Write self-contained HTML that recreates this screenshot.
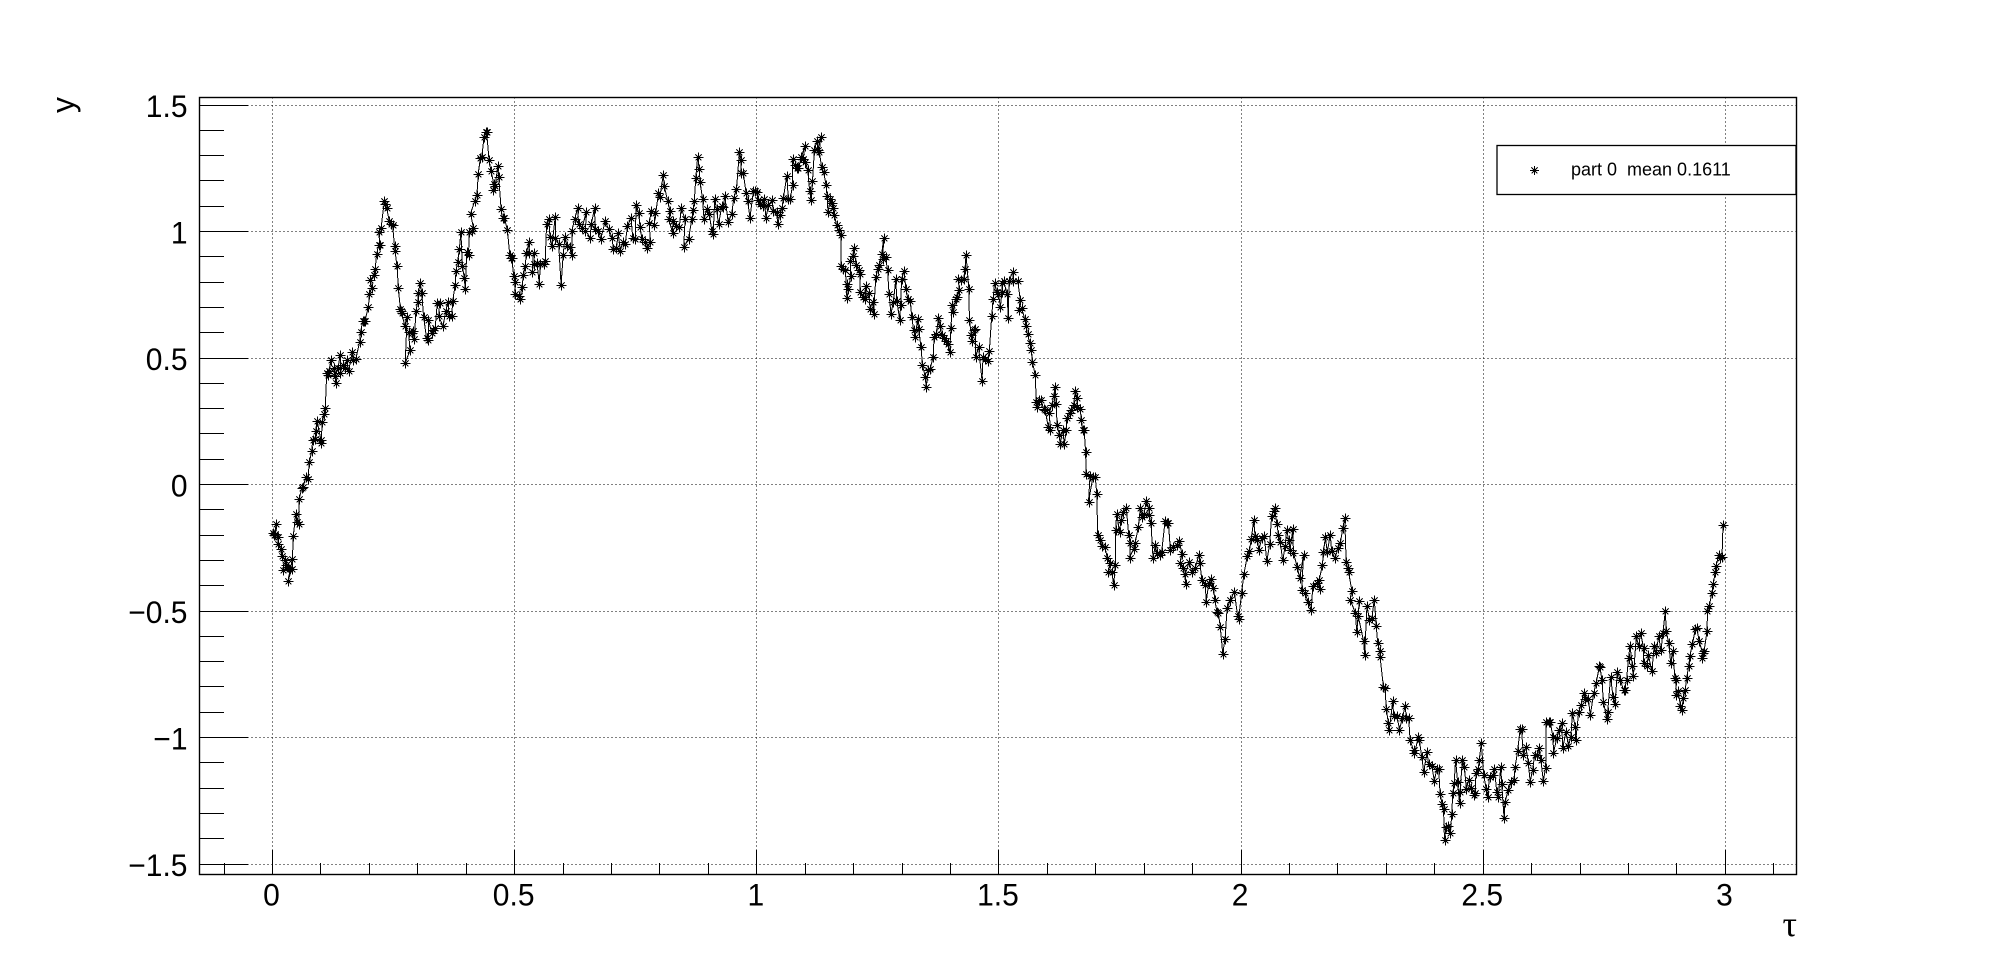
<!DOCTYPE html>
<html lang="en">
<head>
<meta charset="utf-8">
<title>Trajectory part 0</title>
<style>
html,body{margin:0;padding:0;background:#fff;}
svg{display:block;}
text{font-family:"Liberation Sans",sans-serif;fill:#000;}
</style>
</head>
<body>
<svg id="chart" xmlns="http://www.w3.org/2000/svg" width="1996" height="972" viewBox="0 0 1996 972">
  <rect x="0" y="0" width="1996" height="972" fill="#fff"/>
  <g id="grid"></g>
  <g id="series"></g>
  <g id="ticks"></g>
  <rect x="199.5" y="97.5" width="1597" height="777" fill="none" stroke="#000" stroke-width="1.4"/>
  <g id="labels"></g>
  <text transform="translate(74,97) rotate(-90)" text-anchor="end" font-size="32">y</text>
  <text x="1797" y="936" text-anchor="end" font-size="36" style="font-family:'Liberation Serif',serif">τ</text>
  <g>
    <rect x="1497" y="145.5" width="299" height="49" fill="#fff" stroke="#000" stroke-width="1.3"/>
    <path shape-rendering="crispEdges" d="M1530 170.5H1539M1534.5 166V175M1531.5 167.5L1537.5 173.5M1531.5 173.5L1537.5 167.5" stroke="#000" stroke-width="1" fill="none"/>
    <text x="1571" y="175.3" font-size="18" style="white-space:pre" xml:space="preserve">part 0  mean 0.1611</text>
  </g>
</svg>
<script>
const xTickValues = [0, 0.5, 1, 1.5, 2, 2.5, 3];
const xTickLabels = ["0", "0.5", "1", "1.5", "2", "2.5", "3"];
const yTickValues = [-1.5, -1, -0.5, 0, 0.5, 1, 1.5];
const yTickLabels = ["\u22121.5", "\u22121", "\u22120.5", "0", "0.5", "1", "1.5"];
const xMinorValues = [-0.1,0.1,0.2,0.3,0.4,0.6,0.7,0.8,0.9,1.1,1.2,1.3,1.4,1.6,1.7,1.8,1.9,2.1,2.2,2.3,2.4,2.6,2.7,2.8,2.9,3.1];
const yMinorValues = [-1.4,-1.3,-1.2,-1.1,-0.9,-0.8,-0.7,-0.6,-0.4,-0.3,-0.2,-0.1,0.1,0.2,0.3,0.4,0.6,0.7,0.8,0.9,1.1,1.2,1.3,1.4];

const taus = [
0,.003,.008,.006,.011,.012,.017,.019,.025,.021,
.028,.032,.034,.04,.032,.041,.043,.048,.05,.054,
.055,.061,.063,.069,.073,.076,.081,.083,.088,.089,
.092,.1,.1,.103,.107,.109,.112,.114,.121,.117,
.126,.131,.129,.135,.14,.14,.145,.15,.153,.157,
.165,.167,.172,.18,.182,.186,.189,.191,.198,.2,
.205,.202,.209,.212,.215,.219,.222,.219,.224,.231,
.233,.236,.241,.245,.248,.252,.253,.257,.26,.264,
.266,.267,.273,.278,.274,.284,.281,.289,.291,.293,
.296,.3,.301,.305,.308,.312,.318,.322,.322,.329,
.332,.336,.34,.345,.343,.352,.358,.362,.365,.37,
.372,.377,.379,.382,.386,.389,.392,.396,.398,.401,
.405,.406,.412,.415,.409,.418,.422,.425,.429,.432,
.437,.44,.442,.447,.451,.457,.456,.46,.465,.467,
.472,.475,.479,.485,.49,.493,
.494,.498,.501,.501,.508,.511,.515,.518,.522,.524,
.53,.529,.539,.536,.539,.546,.551,.553,.56,.563,
.566,.57,.573,.577,.584,.584,.591,.596,.6,.604,
.608,.615,.618,.618,.624,.63,.632,.639,.648,.646,
.656,.658,.665,.666,.673,.678,.687,.694,.701,.704,
.71,.714,.718,.724,.728,.733,.74,.744,.749,.751,
.756,.759,.763,.77,.773,.78,.778,.782,.79,.788,
.797,.8,.807,.809,.816,.821,.818,.826,.827,.833,
.84,.844,.852,.849,.859,.866,.868,.871,.874,.878,
.881,.883,.888,.891,.897,.902,.907,.91,.913,.917,
.921,.928,.931,.934,.941,.948,.953,.958,.964,.968,
.967,.972,.978,.981,.986,.993,.997,
1,1.002,1.007,1.012,1.015,1.019,1.024,1.031,1.034,1.041,
1.043,1.048,1.052,1.055,1.062,1.065,1.069,1.074,1.074,1.078,
1.083,1.086,1.092,1.099,1.096,1.1,1.105,1.109,1.112,1.115,
1.119,1.124,1.126,1.132,1.129,1.134,1.138,1.143,1.145,1.147,
1.152,1.155,1.158,1.16,1.165,1.169,1.174,1.174,1.178,1.183,
1.186,1.186,1.189,1.194,1.193,1.198,1.201,1.205,1.21,1.213,
1.213,1.22,1.226,1.224,1.231,1.234,1.239,1.241,1.246,1.25,
1.253,1.258,1.262,1.26,1.266,1.27,1.273,1.277,1.282,1.287,
1.289,1.295,1.297,1.299,1.304,1.308,1.312,1.317,1.32,1.324,
1.327,1.332,1.334,1.339,1.342,1.348,1.35,1.354,1.358,1.364,
1.366,1.371,1.375,1.379,1.382,1.387,1.39,1.394,1.398,1.401,
1.403,1.406,1.412,1.414,1.418,1.416,1.422,1.427,1.43,1.432,
1.438,1.439,1.443,1.445,1.449,1.451,1.452,1.458,1.465,1.467,
1.472,1.477,1.48,1.485,1.488,1.491,1.496,1.499,1.503,1.506,1.507,
1.51,1.517,1.519,1.521,1.528,1.53,1.539,1.544,1.541,1.547,1.553,1.556,1.559,1.564,1.567,1.569,
1.575,1.577,1.582,1.578,1.587,1.592,1.595,1.602,1.606,1.604,
1.609,1.613,1.616,1.618,1.62,1.625,1.626,1.632,1.635,1.639,
1.64,1.646,1.649,1.654,1.658,1.661,1.662,1.668,1.67,1.673,
1.676,1.679,1.68,1.688,1.685,1.694,1.699,1.702,1.704,1.709,
1.713,1.719,1.724,1.73,1.726,1.733,1.737,1.74,1.741,1.743,
1.749,1.752,1.757,1.763,1.768,1.771,1.77,1.778,1.781,1.788,
1.792,1.795,1.8,1.804,1.809,1.81,1.814,1.818,1.823,1.826,
1.832,1.836,1.843,1.847,1.85,1.854,1.86,1.867,1.872,1.878,
1.874,1.881,1.886,1.885,1.893,1.898,1.905,1.913,1.915,1.919,
1.926,1.928,1.933,1.938,1.943,1.946,1.95,1.953,1.957,1.962,
1.967,1.971,1.978,1.986,1.993,1.995,2.001,
2.006,2.013,2.017,2.021,2.026,2.029,2.033,2.037,2.043,2.048,
2.053,2.059,2.063,2.067,2.069,2.074,2.077,2.081,2.086,2.091,
2.094,2.098,2.101,2.107,2.108,2.116,2.121,2.129,2.125,2.132,
2.139,2.145,2.148,2.156,2.162,2.161,2.168,2.17,2.174,2.178,
2.184,2.187,2.194,2.2,2.205,2.21,2.214,2.217,2.22,2.222,
2.229,2.225,2.236,2.239,2.244,2.242,2.253,2.255,2.26,2.265,
2.27,2.275,2.279,2.282,2.286,2.287,2.294,2.297,2.3,2.304,
2.306,2.313,2.315,2.322,2.327,2.333,2.339,2.341,2.346,
2.349,2.356,2.358,2.366,2.368,2.373,2.377,2.384,2.387,2.394,
2.399,2.404,2.408,2.411,2.415,2.418,2.42,2.423,2.428,2.432,
2.435,2.437,2.44,2.443,2.447,2.451,2.452,2.457,2.461,2.465,
2.47,2.474,2.48,2.483,2.485,2.49,2.492,2.496,2.501,2.506,
2.509,2.513,2.52,2.523,2.528,2.531,2.536,2.538,2.543,2.545,
2.552,2.558,2.563,2.566,2.571,2.576,2.579,2.583,2.588,2.593,
2.597,2.602,2.606,2.611,2.616,2.619,2.624,2.629,2.63,2.635,
2.638,2.644,2.645,2.652,2.657,2.662,2.664,2.671,2.676,2.681,
2.684,2.69,2.691,2.697,2.702,2.707,2.71,2.717,2.721,2.728,
2.733,2.74,2.741,2.745,2.748,2.755,2.757,2.763,2.768,2.772,
2.777,2.783,2.79,
2.792,2.796,2.8,2.803,2.808,2.81,2.816,2.821,2.825,2.831,
2.831,2.838,2.841,2.848,2.853,2.857,2.862,2.867,2.871,2.876,
2.878,2.883,2.887,2.891,2.896,2.898,2.898,2.903,2.907,2.91,
2.913,2.917,2.92,2.924,2.927,2.932,2.938,2.941,2.946,2.953,
2.951,2.956,2.962,2.963,2.967,2.972,2.975,2.979,2.981,2.986,
2.989,2.993,2.995
];

const yValues = [
-.19,-.2,-.157,-.195,-.208,-.237,-.254,-.283,-.298,-.337,
-.32,-.327,-.333,-.333,-.382,-.294,-.205,-.115,-.148,-.155,
-.058,-.012,-.009,.028,.022,.087,.132,.176,.179,.213,
.251,.176,.163,.249,.279,.303,.44,.431,.491,.447,
.46,.401,.427,.46,.513,.44,.474,.46,.493,.447,
.524,.493,.496,.565,.602,.645,.645,.648,.702,.751,
.778,.808,.827,.853,.91,.946,.946,.999,1.012,1.122,
1.108,1.091,1.042,1.029,1.025,.943,.923,.864,.775,.692,
.685,.676,.628,.663,.48,.53,.602,.599,.606,.575,
.685,.722,.755,.798,.758,.663,.579,.573,.652,.599,
.612,.619,.716,.716,.665,.626,.685,.721,.665,.665,
.725,.787,.844,.88,.93,.999,.864,.817,.774,.917,
.906,.999,1.003,1.012,1.071,1.122,1.144,1.228,1.29,1.294,
1.373,1.393,1.395,1.284,1.241,1.188,1.164,1.181,1.257,1.217,
1.089,1.052,1.052,1.005,.906,.897,
.897,.825,.801,.752,.746,.735,.779,.827,.864,.914,
.959,.914,.914,.838,.871,.877,.794,.871,.871,.884,
1.029,1.051,.98,.943,1.059,.976,.95,.788,.906,.98,
.943,.939,.906,1.003,1.049,1.092,1.029,1.012,1.078,1.003,
.976,1.029,1.092,1.009,1.003,.972,1.042,1.009,.976,.93,
.933,.996,.924,.959,.95,1.02,1.055,.976,.972,1.105,
1.075,1.016,.97,.957,.933,.957,1.033,1.082,1.075,1.025,
1.152,1.137,1.224,1.18,1.119,1.082,1.049,.996,1.042,1.022,
1.016,1.092,1.049,.937,.972,1.049,1.084,1.119,1.213,1.296,
1.246,1.196,1.128,1.049,1.088,1.069,1.003,.989,1.128,1.088,
1.029,1.101,1.095,1.141,1.036,1.069,1.134,1.167,1.315,1.282,
1.233,1.231,1.154,1.121,1.055,1.161,1.161,
1.155,1.125,1.109,1.1,1.129,1.053,1.103,1.123,1.083,1.079,
1.03,1.066,1.092,1.132,1.221,1.129,1.129,1.182,1.285,1.261,
1.25,1.25,1.294,1.337,1.287,1.274,1.245,1.162,1.126,1.198,
1.324,1.356,1.324,1.373,1.314,1.254,1.235,1.184,1.14,1.079,
1.129,1.113,1.092,1.066,1.024,1.004,.987,.863,.852,.846,
.736,.793,.771,.823,.885,.905,.935,.866,.846,.833,
.76,.74,.784,.734,.758,.694,.721,.672,.822,.852,
.866,.912,.974,.892,.899,.846,.754,.675,.721,.813,
.727,.651,.708,.813,.842,.771,.734,.727,.661,.609,
.582,.655,.615,.543,.473,.425,.385,.451,.458,.503,
.582,.596,.657,.628,.589,.578,.569,.556,.523,.619,
.708,.681,.734,.74,.767,.813,.81,.813,.85,.908,
.773,.652,.589,.569,.609,.615,.503,.543,.411,.503,
.497,.49,.526,.665,.734,.797,.76,.754,.701,.76,.797,
.804,.751,.659,.804,.84,.804,.804,.729,.689,.698,.655,.628,.593,.56,.533,.484,
.432,.327,.333,.307,.333,.3,.296,.228,.217,.281,
.314,.349,.386,.32,.235,.195,.159,.215,.159,.215,
.261,.283,.294,.314,.37,.34,.307,.3,.254,.217,
.215,.129,.043,.033,-.069,.03,.028,-.038,-.2,-.22,
-.244,-.249,-.292,-.31,-.345,-.345,-.398,-.319,-.18,-.117,
-.187,-.141,-.108,-.091,-.2,-.233,-.289,-.253,-.233,-.167,
-.091,-.128,-.115,-.066,-.091,-.121,-.154,-.289,-.24,-.27,
-.279,-.266,-.144,-.154,-.154,-.26,-.246,-.24,-.223,-.273,
-.312,-.332,-.395,-.352,-.306,-.345,-.332,-.277,-.312,-.378,
-.398,-.464,-.391,-.375,-.411,-.457,-.503,-.507,-.563,-.668,
-.609,-.49,-.457,-.424,-.52,-.53,-.428,
-.352,-.281,-.264,-.215,-.142,-.205,-.218,-.258,-.211,-.205,
-.304,-.234,-.126,-.106,-.093,-.155,-.198,-.229,-.3,-.244,
-.179,-.218,-.258,-.176,-.271,-.326,-.37,-.277,-.416,-.429,
-.466,-.495,-.4,-.389,-.413,-.379,-.317,-.268,-.208,-.268,
-.198,-.264,-.291,-.251,-.231,-.172,-.132,-.308,-.33,-.347,
-.422,-.455,-.508,-.584,-.459,-.521,-.62,-.673,-.479,-.534,
-.528,-.455,-.558,-.626,-.659,-.682,-.802,-.804,-.887,-.943,
-.969,-.857,-.916,-.916,-.969,-.923,-.874,-.923,-.923,
-1.011,-1.05,-1.063,-.997,-1.008,-1.076,-1.136,-1.057,-1.103,-1.113,
-1.171,-1.126,-1.123,-1.224,-1.261,-1.281,-1.406,-1.353,-1.349,-1.379,
-1.303,-1.221,-1.179,-1.087,-1.175,-1.258,-1.215,-1.09,-1.116,-1.202,
-1.169,-1.198,-1.228,-1.221,-1.142,-1.126,-1.087,-1.02,-1.149,-1.202,
-1.235,-1.155,-1.149,-1.126,-1.215,-1.237,-1.116,-1.182,-1.32,-1.254,
-1.208,-1.175,-1.169,-1.116,-1.053,-.968,-.968,-1.07,-1.037,-1.1,
-1.175,-1.129,-1.07,-1.07,-1.043,-1.09,-1.171,-1.119,-.938,-.938,
-.938,-.997,-1.061,-1,-.971,-.942,-1.04,-.978,-1.034,-.997,
-.903,-.958,-1.008,-.899,-.872,-.826,-.846,-.846,-.912,-.826,
-.784,-.718,-.721,-.773,-.859,-.925,-.899,-.76,-.839,-.866,
-.74,-.773,-.813,
-.811,-.771,-.686,-.637,-.719,-.758,-.6,-.64,-.587,-.646,
-.706,-.719,-.673,-.738,-.64,-.666,-.6,-.655,-.587,-.501,
-.58,-.626,-.706,-.659,-.765,-.774,-.831,-.818,-.877,-.893,
-.844,-.811,-.765,-.719,-.677,-.629,-.571,-.567,-.62,-.666,
-.686,-.659,-.58,-.501,-.479,-.429,-.392,-.347,-.321,-.277,
-.291,-.288,-.161
];

const SVGNS = "http://www.w3.org/2000/svg";
const plotLeft = 199.5, plotRight = 1796.5, plotTop = 97.5, plotBottom = 874.5;
function xScale(t) { return 272.5 + t * 484.3; }
function yScale(v) { return 484.5 - v * 253; }

const gridGroup = document.getElementById("grid");
const tickGroup = document.getElementById("ticks");
const labelGroup = document.getElementById("labels");
const seriesGroup = document.getElementById("series");

function makeLine(x1, y1, x2, y2) {
  const l = document.createElementNS(SVGNS, "line");
  l.setAttribute("x1", x1);
  l.setAttribute("y1", y1);
  l.setAttribute("x2", x2);
  l.setAttribute("y2", y2);
  l.setAttribute("stroke", "#000");
  l.setAttribute("stroke-width", "1");
  l.setAttribute("shape-rendering", "crispEdges");
  return l;
}

xTickValues.forEach(function (v, i) {
  const px = Math.floor(xScale(v)) + 0.5;
  const g = makeLine(px, plotTop, px, plotBottom);
  g.setAttribute("stroke-dasharray", "1 3");
  
  
  gridGroup.appendChild(g);
  const t = makeLine(px, plotBottom, px, plotBottom - 24.5);
  
  
  tickGroup.appendChild(t);
  const lb = document.createElementNS(SVGNS, "text");
  lb.setAttribute("transform", "translate(" + (xScale(v) - 1) + ",905.5) scale(1,1.05)");
  lb.setAttribute("text-anchor", "middle");
  lb.setAttribute("font-size", "30");
  
  
  lb.textContent = xTickLabels[i];
  labelGroup.appendChild(lb);
});

xMinorValues.forEach(function (v) {
  const px = Math.floor(xScale(v)) + 0.5;
  const t = makeLine(px, plotBottom, px, plotBottom - 11.5);
  
  
  tickGroup.appendChild(t);
});

yTickValues.forEach(function (v, i) {
  const py = Math.floor(yScale(v)) + 0.5;
  const g = makeLine(plotLeft, py, plotRight, py);
  g.setAttribute("stroke-dasharray", "1 3");
  
  
  gridGroup.appendChild(g);
  const t = makeLine(plotLeft, py, plotLeft + 48.5, py);
  
  
  tickGroup.appendChild(t);
  const lb = document.createElementNS(SVGNS, "text");
  lb.setAttribute("transform", "translate(187.5," + (yScale(v) + 12) + ") scale(1,1.05)");
  lb.setAttribute("text-anchor", "end");
  lb.setAttribute("font-size", "30");
  
  
  lb.textContent = yTickLabels[i];
  labelGroup.appendChild(lb);
});

yMinorValues.forEach(function (v) {
  const py = Math.floor(yScale(v)) + 0.5;
  const t = makeLine(plotLeft, py, plotLeft + 24.5, py);
  
  
  tickGroup.appendChild(t);
});

const pointCount = Math.min(taus.length, yValues.length);
const linePoints = [];
for (let i = 0; i < pointCount; i++) {
  linePoints.push(xScale(taus[i]).toFixed(1) + "," + yScale(yValues[i]).toFixed(1));
}
const trace = document.createElementNS(SVGNS, "polyline");
trace.setAttribute("points", linePoints.join(" "));
trace.setAttribute("fill", "none");
trace.setAttribute("stroke", "#000");
trace.setAttribute("stroke-width", "1");
trace.setAttribute("shape-rendering", "crispEdges");


seriesGroup.appendChild(trace);

for (let i = 0; i < pointCount; i++) {
  const cx = Math.round(xScale(taus[i])) + 0.5;
  const cy = Math.round(yScale(yValues[i])) + 0.5;
  const m = document.createElementNS(SVGNS, "path");
  m.setAttribute("d", "M" + (cx - 5) + " " + cy + "h10M" + cx + " " + (cy - 5) + "v10M" + (cx - 3) + " " + (cy - 3) + "l6 6M" + (cx - 3) + " " + (cy + 3) + "l6 -6");
  m.setAttribute("fill", "none");
  m.setAttribute("stroke", "#000");
  m.setAttribute("stroke-width", "1");
  m.setAttribute("shape-rendering", "crispEdges");
  
  
  seriesGroup.appendChild(m);
}
</script>
</body>
</html>
